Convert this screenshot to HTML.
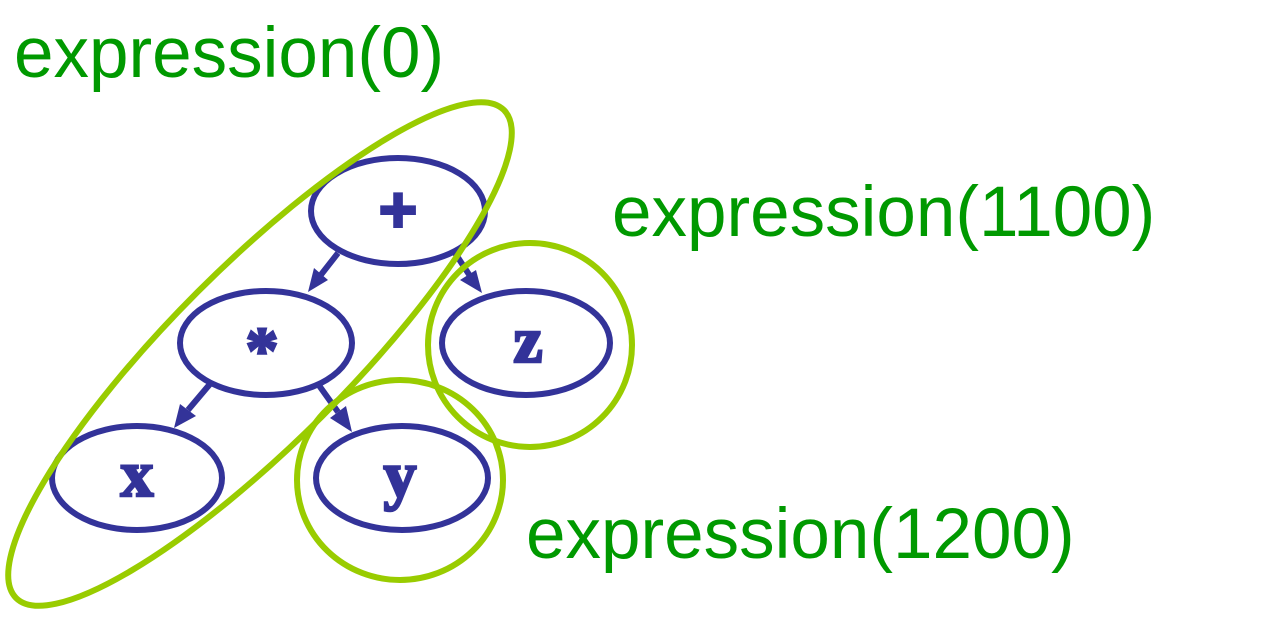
<!DOCTYPE html>
<html><head><meta charset="utf-8"><style>html,body{margin:0;padding:0;background:#fff;overflow:hidden;width:1280px;height:626px}svg{display:block}
.m{font-family:"Liberation Serif",serif;font-weight:bold;font-size:66px;fill:#333399;stroke:#333399;stroke-width:2.5}
.g{font-family:"Liberation Sans",sans-serif;font-size:71px;fill:#009900}</style></head>
<body>
<svg width="1280" height="626" viewBox="0 0 1280 626" xmlns="http://www.w3.org/2000/svg">
<g fill="none" stroke="#333399" stroke-width="6">
<ellipse cx="398" cy="211" rx="87" ry="53"/>
<ellipse cx="266" cy="343" rx="86" ry="52"/>
<ellipse cx="526" cy="343" rx="84" ry="52"/>
<ellipse cx="137" cy="478" rx="85" ry="52"/>
<ellipse cx="402" cy="478" rx="86" ry="52"/>
<line x1="338" y1="253" x2="320" y2="276"/>
<line x1="455" y1="253" x2="470" y2="276"/>
<line x1="210" y1="384" x2="188" y2="410"/>
<line x1="318" y1="384" x2="338" y2="412"/>
</g>
<g fill="#333399">
<polygon points="308,292 314,268 328,280"/>
<polygon points="482,293 460,280 476,270"/>
<polygon points="174,428 180,404 196,416"/>
<polygon points="352,432 330,418 346,406"/>
</g>
<g class="m" text-anchor="middle">
<text x="398" y="232" style="stroke-width:5">+</text>
<text x="262" y="372">*</text>
<text x="528" y="362">z</text>
<text x="137" y="496">x</text>
<text x="400" y="497">y</text>
</g>
<g fill="none" stroke="#99cc00" stroke-width="6">
<ellipse cx="260" cy="354" rx="345" ry="88" transform="rotate(-45 260 354)"/>
<ellipse cx="530" cy="345" rx="102" ry="102"/>
<ellipse cx="400" cy="480" rx="103" ry="100"/>
</g>
<g class="g">
<text x="14" y="77">expression(0)</text>
<text x="612" y="236">expression(1100)</text>
<text x="526" y="558">expression(1200)</text>
</g>
</svg>
</body></html>
